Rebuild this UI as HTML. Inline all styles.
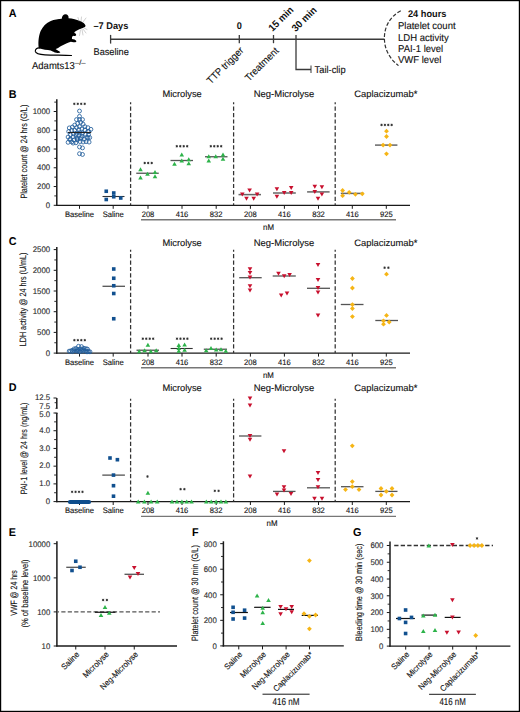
<!DOCTYPE html>
<html><head><meta charset="utf-8"><style>
html,body{margin:0;padding:0;background:#fff;}
svg{display:block;}
text{font-family:"Liberation Sans",sans-serif;text-rendering:geometricPrecision;}
</style></head><body>
<svg width="520" height="712" viewBox="0 0 520 712">
<rect width="520" height="712" fill="#fff"/>
<rect x="0.5" y="0.5" width="519" height="711" fill="none" stroke="#000" stroke-width="1.4"/>
<text x="8.80" y="16.60" font-size="11.34" font-weight="bold" fill="#000" textLength="7.80" lengthAdjust="spacingAndGlyphs">A</text>
<g transform="translate(30 8) scale(0.11538)"><path d="M76 348 C70 310 72 250 92 200 C110 160 140 130 180 112 C210 100 245 97 275 94 C276 72 290 54 308 54 C326 55 338 70 334 88 C365 90 410 100 440 114 C462 124 478 140 481 152 C482 162 474 168 462 171 C440 178 415 188 395 202 C388 207 384 212 384 216 C394 218 402 226 400 236 C397 244 384 242 374 240 C366 246 362 256 364 268 C378 268 396 274 402 286 C404 296 388 300 376 296 C368 294 362 292 354 292 C330 298 300 312 270 330 C255 340 240 350 222 356 C232 366 250 372 262 382 C264 390 244 391 228 388 C210 384 196 376 180 368 C150 362 110 360 76 348 Z" fill="#000"/><path d="M84 346 C60 344 44 358 46 376 C50 396 85 403 130 406 C200 410 290 408 360 412" fill="none" stroke="#000" stroke-width="10" stroke-linecap="round"/><g stroke="#9a9a9a" stroke-width="4" fill="none" stroke-linecap="round"><path d="M424.7 112.7 L416 82.3"/><path d="M442 117 L446.3 78"/><path d="M459.4 121.3 L485.3 86.7"/><path d="M468 173.3 L494 186.3"/><path d="M459.4 182 L485.3 216.7"/><path d="M450.7 186.3 L459.4 234"/><path d="M437.7 190.7 L429 238.3"/></g></g>
<text x="32.00" y="68.50" font-size="9.97" fill="#111" stroke="#111" stroke-width="0.12" textLength="42.77" lengthAdjust="spacingAndGlyphs">Adamts13</text>
<text x="74.97" y="64.60" font-size="7.14" fill="#111" stroke="#111" stroke-width="0.12" textLength="10.60" lengthAdjust="spacingAndGlyphs">–/–</text>
<line x1="110.50" y1="39.20" x2="384.00" y2="39.20" stroke="#3a3a3a" stroke-width="1.35"/>
<line x1="110.60" y1="34.90" x2="110.60" y2="43.60" stroke="#3a3a3a" stroke-width="1.3"/>
<line x1="239.30" y1="35.00" x2="239.30" y2="43.20" stroke="#3a3a3a" stroke-width="1.3"/>
<line x1="273.50" y1="35.00" x2="273.50" y2="43.20" stroke="#3a3a3a" stroke-width="1.3"/>
<path d="M296 35 L296 69.5 L311 69.5" fill="none" stroke="#3a3a3a" stroke-width="1.3"/>
<line x1="311.00" y1="65.50" x2="311.00" y2="73.00" stroke="#3a3a3a" stroke-width="1.0"/>
<text x="314.60" y="72.90" font-size="9.87" fill="#111" stroke="#111" stroke-width="0.12" textLength="31.00" lengthAdjust="spacingAndGlyphs">Tail-clip</text>
<text x="93.50" y="29.00" font-size="9.66" font-weight="bold" fill="#111" textLength="34.78" lengthAdjust="spacingAndGlyphs">–7 Days</text>
<text x="93.50" y="54.50" font-size="9.66" fill="#111" stroke="#111" stroke-width="0.12" textLength="35.29" lengthAdjust="spacingAndGlyphs">Baseline</text>
<text x="239.30" y="29.00" font-size="9.66" text-anchor="middle" font-weight="bold" fill="#111" textLength="5.12" lengthAdjust="spacingAndGlyphs">0</text>
<text x="272.60" y="32.00" font-size="10.08" font-weight="bold" fill="#111" textLength="30.41" lengthAdjust="spacingAndGlyphs" transform="rotate(-45 272.60 32.00)">15 min</text>
<text x="295.80" y="32.30" font-size="10.08" font-weight="bold" fill="#111" textLength="30.41" lengthAdjust="spacingAndGlyphs" transform="rotate(-45 295.80 32.30)">30 min</text>
<text x="210.83" y="84.47" font-size="9.97" fill="#111" stroke="#111" stroke-width="0.12" textLength="47.33" lengthAdjust="spacingAndGlyphs" transform="rotate(-45 210.83 84.47)">TTP trigger</text>
<text x="248.94" y="81.66" font-size="9.97" fill="#111" stroke="#111" stroke-width="0.12" textLength="42.94" lengthAdjust="spacingAndGlyphs" transform="rotate(-45 248.94 81.66)">Treatment</text>
<path d="M400.8 10.8 C389 17 384.2 28 384.4 38.7 C384.6 50 390 59 398.5 65.6" fill="none" stroke="#333" stroke-width="1.2" stroke-dasharray="3.8 1.9"/>
<text x="408.00" y="16.90" font-size="9.66" font-weight="bold" fill="#111" textLength="38.34" lengthAdjust="spacingAndGlyphs">24 hours</text>
<text x="398.00" y="28.50" font-size="9.97" fill="#111" stroke="#111" stroke-width="0.12" textLength="57.56" lengthAdjust="spacingAndGlyphs">Platelet count</text>
<text x="398.00" y="40.70" font-size="9.97" fill="#111" stroke="#111" stroke-width="0.12" textLength="50.68" lengthAdjust="spacingAndGlyphs">LDH activity</text>
<text x="398.00" y="51.90" font-size="9.97" fill="#111" stroke="#111" stroke-width="0.12" textLength="45.23" lengthAdjust="spacingAndGlyphs">PAI-1 level</text>
<text x="398.00" y="62.90" font-size="9.97" fill="#111" stroke="#111" stroke-width="0.12" textLength="43.28" lengthAdjust="spacingAndGlyphs">VWF level</text>
<text x="8.80" y="97.60" font-size="11.34" font-weight="bold" fill="#000" textLength="7.80" lengthAdjust="spacingAndGlyphs">B</text>
<line x1="56.80" y1="99.20" x2="56.80" y2="205.90" stroke="#1a1a1a" stroke-width="1.5"/>
<line x1="53.70" y1="205.30" x2="56.80" y2="205.30" stroke="#1a1a1a" stroke-width="1.0"/>
<text x="50.10" y="207.80" font-size="8.19" text-anchor="end" fill="#2a2a2a" stroke="#2a2a2a" stroke-width="0.12" textLength="4.34" lengthAdjust="spacingAndGlyphs">0</text>
<line x1="53.70" y1="186.54" x2="56.80" y2="186.54" stroke="#1a1a1a" stroke-width="1.0"/>
<text x="50.10" y="189.04" font-size="8.19" text-anchor="end" fill="#2a2a2a" stroke="#2a2a2a" stroke-width="0.12" textLength="13.01" lengthAdjust="spacingAndGlyphs">200</text>
<line x1="53.70" y1="167.78" x2="56.80" y2="167.78" stroke="#1a1a1a" stroke-width="1.0"/>
<text x="50.10" y="170.28" font-size="8.19" text-anchor="end" fill="#2a2a2a" stroke="#2a2a2a" stroke-width="0.12" textLength="13.01" lengthAdjust="spacingAndGlyphs">400</text>
<line x1="53.70" y1="149.02" x2="56.80" y2="149.02" stroke="#1a1a1a" stroke-width="1.0"/>
<text x="50.10" y="151.52" font-size="8.19" text-anchor="end" fill="#2a2a2a" stroke="#2a2a2a" stroke-width="0.12" textLength="13.01" lengthAdjust="spacingAndGlyphs">600</text>
<line x1="53.70" y1="130.26" x2="56.80" y2="130.26" stroke="#1a1a1a" stroke-width="1.0"/>
<text x="50.10" y="132.76" font-size="8.19" text-anchor="end" fill="#2a2a2a" stroke="#2a2a2a" stroke-width="0.12" textLength="13.01" lengthAdjust="spacingAndGlyphs">800</text>
<line x1="53.70" y1="111.50" x2="56.80" y2="111.50" stroke="#1a1a1a" stroke-width="1.0"/>
<text x="50.10" y="114.00" font-size="8.19" text-anchor="end" fill="#2a2a2a" stroke="#2a2a2a" stroke-width="0.12" textLength="17.35" lengthAdjust="spacingAndGlyphs">1000</text>
<line x1="54.30" y1="195.92" x2="56.80" y2="195.92" stroke="#1a1a1a" stroke-width="0.9"/>
<line x1="54.30" y1="177.16" x2="56.80" y2="177.16" stroke="#1a1a1a" stroke-width="0.9"/>
<line x1="54.30" y1="158.40" x2="56.80" y2="158.40" stroke="#1a1a1a" stroke-width="0.9"/>
<line x1="54.30" y1="139.64" x2="56.80" y2="139.64" stroke="#1a1a1a" stroke-width="0.9"/>
<line x1="54.30" y1="120.88" x2="56.80" y2="120.88" stroke="#1a1a1a" stroke-width="0.9"/>
<line x1="54.30" y1="102.12" x2="56.80" y2="102.12" stroke="#1a1a1a" stroke-width="0.9"/>
<line x1="56.20" y1="205.30" x2="410.00" y2="205.30" stroke="#1a1a1a" stroke-width="1.25"/>
<line x1="79.50" y1="205.30" x2="79.50" y2="208.80" stroke="#1a1a1a" stroke-width="1.0"/>
<line x1="113.20" y1="205.30" x2="113.20" y2="208.80" stroke="#1a1a1a" stroke-width="1.0"/>
<line x1="148.00" y1="205.30" x2="148.00" y2="208.80" stroke="#1a1a1a" stroke-width="1.0"/>
<line x1="182.00" y1="205.30" x2="182.00" y2="208.80" stroke="#1a1a1a" stroke-width="1.0"/>
<line x1="216.20" y1="205.30" x2="216.20" y2="208.80" stroke="#1a1a1a" stroke-width="1.0"/>
<line x1="250.40" y1="205.30" x2="250.40" y2="208.80" stroke="#1a1a1a" stroke-width="1.0"/>
<line x1="284.40" y1="205.30" x2="284.40" y2="208.80" stroke="#1a1a1a" stroke-width="1.0"/>
<line x1="318.50" y1="205.30" x2="318.50" y2="208.80" stroke="#1a1a1a" stroke-width="1.0"/>
<line x1="352.30" y1="205.30" x2="352.30" y2="208.80" stroke="#1a1a1a" stroke-width="1.0"/>
<line x1="386.30" y1="205.30" x2="386.30" y2="208.80" stroke="#1a1a1a" stroke-width="1.0"/>
<text x="79.50" y="217.40" font-size="7.98" text-anchor="middle" fill="#111" stroke="#111" stroke-width="0.12" textLength="29.15" lengthAdjust="spacingAndGlyphs">Baseline</text>
<text x="113.20" y="217.40" font-size="7.98" text-anchor="middle" fill="#111" stroke="#111" stroke-width="0.12" textLength="21.13" lengthAdjust="spacingAndGlyphs">Saline</text>
<text x="148.00" y="217.40" font-size="7.98" text-anchor="middle" fill="#111" stroke="#111" stroke-width="0.12" textLength="12.68" lengthAdjust="spacingAndGlyphs">208</text>
<text x="182.00" y="217.40" font-size="7.98" text-anchor="middle" fill="#111" stroke="#111" stroke-width="0.12" textLength="12.68" lengthAdjust="spacingAndGlyphs">416</text>
<text x="216.20" y="217.40" font-size="7.98" text-anchor="middle" fill="#111" stroke="#111" stroke-width="0.12" textLength="12.68" lengthAdjust="spacingAndGlyphs">832</text>
<text x="250.40" y="217.40" font-size="7.98" text-anchor="middle" fill="#111" stroke="#111" stroke-width="0.12" textLength="12.68" lengthAdjust="spacingAndGlyphs">208</text>
<text x="284.40" y="217.40" font-size="7.98" text-anchor="middle" fill="#111" stroke="#111" stroke-width="0.12" textLength="12.68" lengthAdjust="spacingAndGlyphs">416</text>
<text x="318.50" y="217.40" font-size="7.98" text-anchor="middle" fill="#111" stroke="#111" stroke-width="0.12" textLength="12.68" lengthAdjust="spacingAndGlyphs">832</text>
<text x="352.30" y="217.40" font-size="7.98" text-anchor="middle" fill="#111" stroke="#111" stroke-width="0.12" textLength="12.68" lengthAdjust="spacingAndGlyphs">416</text>
<text x="386.30" y="217.40" font-size="7.98" text-anchor="middle" fill="#111" stroke="#111" stroke-width="0.12" textLength="12.68" lengthAdjust="spacingAndGlyphs">925</text>
<line x1="130.6" y1="102.3" x2="130.6" y2="205.3" stroke="#333" stroke-width="1.25" stroke-dasharray="4.2 2.25" stroke-dashoffset="2.25"/>
<line x1="233.6" y1="102.3" x2="233.6" y2="205.3" stroke="#333" stroke-width="1.25" stroke-dasharray="4.2 2.25" stroke-dashoffset="2.25"/>
<line x1="335.2" y1="102.3" x2="335.2" y2="205.3" stroke="#333" stroke-width="1.25" stroke-dasharray="4.2 2.25" stroke-dashoffset="2.25"/>
<text x="182.10" y="97.30" font-size="9.35" text-anchor="middle" fill="#111" stroke="#111" stroke-width="0.12" textLength="39.40" lengthAdjust="spacingAndGlyphs">Microlyse</text>
<text x="284.00" y="97.30" font-size="9.35" text-anchor="middle" fill="#111" stroke="#111" stroke-width="0.12" textLength="60.50" lengthAdjust="spacingAndGlyphs">Neg-Microlyse</text>
<text x="385.80" y="97.30" font-size="9.35" text-anchor="middle" fill="#111" stroke="#111" stroke-width="0.12" textLength="63.00" lengthAdjust="spacingAndGlyphs">Caplacizumab*</text>
<line x1="141.00" y1="219.80" x2="396.00" y2="219.80" stroke="#777" stroke-width="1.4"/>
<text x="268.50" y="230.30" font-size="8.29" text-anchor="middle" fill="#111" stroke="#111" stroke-width="0.12" textLength="10.97" lengthAdjust="spacingAndGlyphs">nM</text>
<text x="0" y="0" font-size="9.2" text-anchor="middle" fill="#111" stroke="#111" stroke-width="0.12" textLength="93.9" lengthAdjust="spacingAndGlyphs" transform="translate(26.50 151.65) rotate(-90)">Platelet count @ 24 hrs (G/L)</text>
<circle cx="74.30" cy="103.80" r="0.9" fill="#2a2a2a"/>
<path d="M74.30 102.45V105.15M73.10 103.10L75.50 104.50M73.10 104.50L75.50 103.10" stroke="#333" stroke-width="0.5"/>
<circle cx="77.77" cy="103.80" r="0.9" fill="#2a2a2a"/>
<path d="M77.77 102.45V105.15M76.57 103.10L78.97 104.50M76.57 104.50L78.97 103.10" stroke="#333" stroke-width="0.5"/>
<circle cx="81.23" cy="103.80" r="0.9" fill="#2a2a2a"/>
<path d="M81.23 102.45V105.15M80.03 103.10L82.43 104.50M80.03 104.50L82.43 103.10" stroke="#333" stroke-width="0.5"/>
<circle cx="84.70" cy="103.80" r="0.9" fill="#2a2a2a"/>
<path d="M84.70 102.45V105.15M83.50 103.10L85.90 104.50M83.50 104.50L85.90 103.10" stroke="#333" stroke-width="0.5"/>
<line x1="102.50" y1="196.50" x2="124.50" y2="196.50" stroke="#333" stroke-width="1.1"/>
<line x1="136.25" y1="173.25" x2="158.75" y2="173.25" stroke="#555" stroke-width="1.3"/>
<circle cx="144.70" cy="163.00" r="0.9" fill="#2a2a2a"/>
<path d="M144.70 161.65V164.35M143.50 162.30L145.90 163.70M143.50 163.70L145.90 162.30" stroke="#333" stroke-width="0.5"/>
<circle cx="148.20" cy="163.00" r="0.9" fill="#2a2a2a"/>
<path d="M148.20 161.65V164.35M147.00 162.30L149.40 163.70M147.00 163.70L149.40 162.30" stroke="#333" stroke-width="0.5"/>
<circle cx="151.70" cy="163.00" r="0.9" fill="#2a2a2a"/>
<path d="M151.70 161.65V164.35M150.50 162.30L152.90 163.70M150.50 163.70L152.90 162.30" stroke="#333" stroke-width="0.5"/>
<line x1="170.50" y1="160.50" x2="193.00" y2="160.50" stroke="#555" stroke-width="1.3"/>
<circle cx="176.80" cy="146.25" r="0.9" fill="#2a2a2a"/>
<path d="M176.80 144.90V147.60M175.60 145.55L178.00 146.95M175.60 146.95L178.00 145.55" stroke="#333" stroke-width="0.5"/>
<circle cx="180.27" cy="146.25" r="0.9" fill="#2a2a2a"/>
<path d="M180.27 144.90V147.60M179.07 145.55L181.47 146.95M179.07 146.95L181.47 145.55" stroke="#333" stroke-width="0.5"/>
<circle cx="183.73" cy="146.25" r="0.9" fill="#2a2a2a"/>
<path d="M183.73 144.90V147.60M182.53 145.55L184.93 146.95M182.53 146.95L184.93 145.55" stroke="#333" stroke-width="0.5"/>
<circle cx="187.20" cy="146.25" r="0.9" fill="#2a2a2a"/>
<path d="M187.20 144.90V147.60M186.00 145.55L188.40 146.95M186.00 146.95L188.40 145.55" stroke="#333" stroke-width="0.5"/>
<line x1="205.00" y1="156.75" x2="227.50" y2="156.75" stroke="#555" stroke-width="1.3"/>
<circle cx="210.80" cy="146.25" r="0.9" fill="#2a2a2a"/>
<path d="M210.80 144.90V147.60M209.60 145.55L212.00 146.95M209.60 146.95L212.00 145.55" stroke="#333" stroke-width="0.5"/>
<circle cx="214.27" cy="146.25" r="0.9" fill="#2a2a2a"/>
<path d="M214.27 144.90V147.60M213.07 145.55L215.47 146.95M213.07 146.95L215.47 145.55" stroke="#333" stroke-width="0.5"/>
<circle cx="217.73" cy="146.25" r="0.9" fill="#2a2a2a"/>
<path d="M217.73 144.90V147.60M216.53 145.55L218.93 146.95M216.53 146.95L218.93 145.55" stroke="#333" stroke-width="0.5"/>
<circle cx="221.20" cy="146.25" r="0.9" fill="#2a2a2a"/>
<path d="M221.20 144.90V147.60M220.00 145.55L222.40 146.95M220.00 146.95L222.40 145.55" stroke="#333" stroke-width="0.5"/>
<line x1="238.50" y1="194.60" x2="261.00" y2="194.60" stroke="#666" stroke-width="1.5"/>
<line x1="273.00" y1="193.00" x2="295.80" y2="193.00" stroke="#666" stroke-width="1.5"/>
<line x1="307.10" y1="191.90" x2="329.60" y2="191.90" stroke="#666" stroke-width="1.5"/>
<line x1="340.80" y1="193.40" x2="363.80" y2="193.40" stroke="#666" stroke-width="1.5"/>
<line x1="375.00" y1="145.10" x2="397.40" y2="145.10" stroke="#666" stroke-width="1.5"/>
<circle cx="381.55" cy="124.90" r="0.9" fill="#2a2a2a"/>
<path d="M381.55 123.55V126.25M380.35 124.20L382.75 125.60M380.35 125.60L382.75 124.20" stroke="#333" stroke-width="0.5"/>
<circle cx="384.92" cy="124.90" r="0.9" fill="#2a2a2a"/>
<path d="M384.92 123.55V126.25M383.72 124.20L386.12 125.60M383.72 125.60L386.12 124.20" stroke="#333" stroke-width="0.5"/>
<circle cx="388.28" cy="124.90" r="0.9" fill="#2a2a2a"/>
<path d="M388.28 123.55V126.25M387.08 124.20L389.48 125.60M387.08 125.60L389.48 124.20" stroke="#333" stroke-width="0.5"/>
<circle cx="391.65" cy="124.90" r="0.9" fill="#2a2a2a"/>
<path d="M391.65 123.55V126.25M390.45 124.20L392.85 125.60M390.45 125.60L392.85 124.20" stroke="#333" stroke-width="0.5"/>
<text x="8.80" y="245.00" font-size="11.34" font-weight="bold" fill="#000" textLength="7.80" lengthAdjust="spacingAndGlyphs">C</text>
<line x1="56.80" y1="247.00" x2="56.80" y2="353.70" stroke="#1a1a1a" stroke-width="1.5"/>
<line x1="53.70" y1="353.10" x2="56.80" y2="353.10" stroke="#1a1a1a" stroke-width="1.0"/>
<text x="50.10" y="355.60" font-size="8.19" text-anchor="end" fill="#2a2a2a" stroke="#2a2a2a" stroke-width="0.12" textLength="4.34" lengthAdjust="spacingAndGlyphs">0</text>
<line x1="53.70" y1="332.40" x2="56.80" y2="332.40" stroke="#1a1a1a" stroke-width="1.0"/>
<text x="50.10" y="334.90" font-size="8.19" text-anchor="end" fill="#2a2a2a" stroke="#2a2a2a" stroke-width="0.12" textLength="13.01" lengthAdjust="spacingAndGlyphs">500</text>
<line x1="53.70" y1="311.70" x2="56.80" y2="311.70" stroke="#1a1a1a" stroke-width="1.0"/>
<text x="50.10" y="314.20" font-size="8.19" text-anchor="end" fill="#2a2a2a" stroke="#2a2a2a" stroke-width="0.12" textLength="17.35" lengthAdjust="spacingAndGlyphs">1000</text>
<line x1="53.70" y1="291.00" x2="56.80" y2="291.00" stroke="#1a1a1a" stroke-width="1.0"/>
<text x="50.10" y="293.50" font-size="8.19" text-anchor="end" fill="#2a2a2a" stroke="#2a2a2a" stroke-width="0.12" textLength="17.35" lengthAdjust="spacingAndGlyphs">1500</text>
<line x1="53.70" y1="270.30" x2="56.80" y2="270.30" stroke="#1a1a1a" stroke-width="1.0"/>
<text x="50.10" y="272.80" font-size="8.19" text-anchor="end" fill="#2a2a2a" stroke="#2a2a2a" stroke-width="0.12" textLength="17.35" lengthAdjust="spacingAndGlyphs">2000</text>
<line x1="53.70" y1="249.60" x2="56.80" y2="249.60" stroke="#1a1a1a" stroke-width="1.0"/>
<text x="50.10" y="252.10" font-size="8.19" text-anchor="end" fill="#2a2a2a" stroke="#2a2a2a" stroke-width="0.12" textLength="17.35" lengthAdjust="spacingAndGlyphs">2500</text>
<line x1="54.30" y1="342.75" x2="56.80" y2="342.75" stroke="#1a1a1a" stroke-width="0.9"/>
<line x1="54.30" y1="322.05" x2="56.80" y2="322.05" stroke="#1a1a1a" stroke-width="0.9"/>
<line x1="54.30" y1="301.35" x2="56.80" y2="301.35" stroke="#1a1a1a" stroke-width="0.9"/>
<line x1="54.30" y1="280.65" x2="56.80" y2="280.65" stroke="#1a1a1a" stroke-width="0.9"/>
<line x1="54.30" y1="259.95" x2="56.80" y2="259.95" stroke="#1a1a1a" stroke-width="0.9"/>
<line x1="56.20" y1="353.10" x2="410.00" y2="353.10" stroke="#1a1a1a" stroke-width="1.25"/>
<line x1="79.50" y1="353.10" x2="79.50" y2="356.60" stroke="#1a1a1a" stroke-width="1.0"/>
<line x1="113.20" y1="353.10" x2="113.20" y2="356.60" stroke="#1a1a1a" stroke-width="1.0"/>
<line x1="148.00" y1="353.10" x2="148.00" y2="356.60" stroke="#1a1a1a" stroke-width="1.0"/>
<line x1="182.00" y1="353.10" x2="182.00" y2="356.60" stroke="#1a1a1a" stroke-width="1.0"/>
<line x1="216.20" y1="353.10" x2="216.20" y2="356.60" stroke="#1a1a1a" stroke-width="1.0"/>
<line x1="250.40" y1="353.10" x2="250.40" y2="356.60" stroke="#1a1a1a" stroke-width="1.0"/>
<line x1="284.40" y1="353.10" x2="284.40" y2="356.60" stroke="#1a1a1a" stroke-width="1.0"/>
<line x1="318.50" y1="353.10" x2="318.50" y2="356.60" stroke="#1a1a1a" stroke-width="1.0"/>
<line x1="352.30" y1="353.10" x2="352.30" y2="356.60" stroke="#1a1a1a" stroke-width="1.0"/>
<line x1="386.30" y1="353.10" x2="386.30" y2="356.60" stroke="#1a1a1a" stroke-width="1.0"/>
<text x="79.50" y="364.90" font-size="7.98" text-anchor="middle" fill="#111" stroke="#111" stroke-width="0.12" textLength="29.15" lengthAdjust="spacingAndGlyphs">Baseline</text>
<text x="113.20" y="364.90" font-size="7.98" text-anchor="middle" fill="#111" stroke="#111" stroke-width="0.12" textLength="21.13" lengthAdjust="spacingAndGlyphs">Saline</text>
<text x="148.00" y="364.90" font-size="7.98" text-anchor="middle" fill="#111" stroke="#111" stroke-width="0.12" textLength="12.68" lengthAdjust="spacingAndGlyphs">208</text>
<text x="182.00" y="364.90" font-size="7.98" text-anchor="middle" fill="#111" stroke="#111" stroke-width="0.12" textLength="12.68" lengthAdjust="spacingAndGlyphs">416</text>
<text x="216.20" y="364.90" font-size="7.98" text-anchor="middle" fill="#111" stroke="#111" stroke-width="0.12" textLength="12.68" lengthAdjust="spacingAndGlyphs">832</text>
<text x="250.40" y="364.90" font-size="7.98" text-anchor="middle" fill="#111" stroke="#111" stroke-width="0.12" textLength="12.68" lengthAdjust="spacingAndGlyphs">208</text>
<text x="284.40" y="364.90" font-size="7.98" text-anchor="middle" fill="#111" stroke="#111" stroke-width="0.12" textLength="12.68" lengthAdjust="spacingAndGlyphs">416</text>
<text x="318.50" y="364.90" font-size="7.98" text-anchor="middle" fill="#111" stroke="#111" stroke-width="0.12" textLength="12.68" lengthAdjust="spacingAndGlyphs">832</text>
<text x="352.30" y="364.90" font-size="7.98" text-anchor="middle" fill="#111" stroke="#111" stroke-width="0.12" textLength="12.68" lengthAdjust="spacingAndGlyphs">416</text>
<text x="386.30" y="364.90" font-size="7.98" text-anchor="middle" fill="#111" stroke="#111" stroke-width="0.12" textLength="12.68" lengthAdjust="spacingAndGlyphs">925</text>
<line x1="130.6" y1="249.8" x2="130.6" y2="353.1" stroke="#333" stroke-width="1.25" stroke-dasharray="4.2 2.25" stroke-dashoffset="2.25"/>
<line x1="233.6" y1="249.8" x2="233.6" y2="353.1" stroke="#333" stroke-width="1.25" stroke-dasharray="4.2 2.25" stroke-dashoffset="2.25"/>
<line x1="335.2" y1="249.8" x2="335.2" y2="353.1" stroke="#333" stroke-width="1.25" stroke-dasharray="4.2 2.25" stroke-dashoffset="2.25"/>
<text x="182.10" y="245.60" font-size="9.35" text-anchor="middle" fill="#111" stroke="#111" stroke-width="0.12" textLength="39.40" lengthAdjust="spacingAndGlyphs">Microlyse</text>
<text x="284.00" y="245.60" font-size="9.35" text-anchor="middle" fill="#111" stroke="#111" stroke-width="0.12" textLength="60.50" lengthAdjust="spacingAndGlyphs">Neg-Microlyse</text>
<text x="385.80" y="245.60" font-size="9.35" text-anchor="middle" fill="#111" stroke="#111" stroke-width="0.12" textLength="63.00" lengthAdjust="spacingAndGlyphs">Caplacizumab*</text>
<line x1="141.00" y1="367.70" x2="396.00" y2="367.70" stroke="#777" stroke-width="1.4"/>
<text x="268.40" y="377.90" font-size="8.29" text-anchor="middle" fill="#111" stroke="#111" stroke-width="0.12" textLength="10.97" lengthAdjust="spacingAndGlyphs">nM</text>
<text x="0" y="0" font-size="9.2" text-anchor="middle" fill="#111" stroke="#111" stroke-width="0.12" textLength="93.8" lengthAdjust="spacingAndGlyphs" transform="translate(26.40 299.40) rotate(-90)">LDH activity @ 24 hrs (U/mL)</text>
<circle cx="74.40" cy="340.20" r="0.9" fill="#2a2a2a"/>
<path d="M74.40 338.85V341.55M73.20 339.50L75.60 340.90M73.20 340.90L75.60 339.50" stroke="#333" stroke-width="0.5"/>
<circle cx="77.87" cy="340.20" r="0.9" fill="#2a2a2a"/>
<path d="M77.87 338.85V341.55M76.67 339.50L79.07 340.90M76.67 340.90L79.07 339.50" stroke="#333" stroke-width="0.5"/>
<circle cx="81.33" cy="340.20" r="0.9" fill="#2a2a2a"/>
<path d="M81.33 338.85V341.55M80.13 339.50L82.53 340.90M80.13 340.90L82.53 339.50" stroke="#333" stroke-width="0.5"/>
<circle cx="84.80" cy="340.20" r="0.9" fill="#2a2a2a"/>
<path d="M84.80 338.85V341.55M83.60 339.50L86.00 340.90M83.60 340.90L86.00 339.50" stroke="#333" stroke-width="0.5"/>
<line x1="102.50" y1="286.25" x2="125.00" y2="286.25" stroke="#333" stroke-width="1.1"/>
<line x1="136.50" y1="350.20" x2="159.00" y2="350.20" stroke="#333" stroke-width="1.1"/>
<circle cx="142.80" cy="338.70" r="0.9" fill="#2a2a2a"/>
<path d="M142.80 337.35V340.05M141.60 338.00L144.00 339.40M141.60 339.40L144.00 338.00" stroke="#333" stroke-width="0.5"/>
<circle cx="146.27" cy="338.70" r="0.9" fill="#2a2a2a"/>
<path d="M146.27 337.35V340.05M145.07 338.00L147.47 339.40M145.07 339.40L147.47 338.00" stroke="#333" stroke-width="0.5"/>
<circle cx="149.73" cy="338.70" r="0.9" fill="#2a2a2a"/>
<path d="M149.73 337.35V340.05M148.53 338.00L150.93 339.40M148.53 339.40L150.93 338.00" stroke="#333" stroke-width="0.5"/>
<circle cx="153.20" cy="338.70" r="0.9" fill="#2a2a2a"/>
<path d="M153.20 337.35V340.05M152.00 338.00L154.40 339.40M152.00 339.40L154.40 338.00" stroke="#333" stroke-width="0.5"/>
<line x1="170.60" y1="348.50" x2="192.70" y2="348.50" stroke="#333" stroke-width="1.1"/>
<circle cx="177.00" cy="338.70" r="0.9" fill="#2a2a2a"/>
<path d="M177.00 337.35V340.05M175.80 338.00L178.20 339.40M175.80 339.40L178.20 338.00" stroke="#333" stroke-width="0.5"/>
<circle cx="180.47" cy="338.70" r="0.9" fill="#2a2a2a"/>
<path d="M180.47 337.35V340.05M179.27 338.00L181.67 339.40M179.27 339.40L181.67 338.00" stroke="#333" stroke-width="0.5"/>
<circle cx="183.93" cy="338.70" r="0.9" fill="#2a2a2a"/>
<path d="M183.93 337.35V340.05M182.73 338.00L185.13 339.40M182.73 339.40L185.13 338.00" stroke="#333" stroke-width="0.5"/>
<circle cx="187.40" cy="338.70" r="0.9" fill="#2a2a2a"/>
<path d="M187.40 337.35V340.05M186.20 338.00L188.60 339.40M186.20 339.40L188.60 338.00" stroke="#333" stroke-width="0.5"/>
<line x1="203.80" y1="349.20" x2="227.00" y2="349.20" stroke="#333" stroke-width="1.1"/>
<circle cx="211.20" cy="338.70" r="0.9" fill="#2a2a2a"/>
<path d="M211.20 337.35V340.05M210.00 338.00L212.40 339.40M210.00 339.40L212.40 338.00" stroke="#333" stroke-width="0.5"/>
<circle cx="214.67" cy="338.70" r="0.9" fill="#2a2a2a"/>
<path d="M214.67 337.35V340.05M213.47 338.00L215.87 339.40M213.47 339.40L215.87 338.00" stroke="#333" stroke-width="0.5"/>
<circle cx="218.13" cy="338.70" r="0.9" fill="#2a2a2a"/>
<path d="M218.13 337.35V340.05M216.93 338.00L219.33 339.40M216.93 339.40L219.33 338.00" stroke="#333" stroke-width="0.5"/>
<circle cx="221.60" cy="338.70" r="0.9" fill="#2a2a2a"/>
<path d="M221.60 337.35V340.05M220.40 338.00L222.80 339.40M220.40 339.40L222.80 338.00" stroke="#333" stroke-width="0.5"/>
<line x1="239.20" y1="277.70" x2="261.70" y2="277.70" stroke="#555" stroke-width="1.3"/>
<line x1="272.70" y1="276.00" x2="295.80" y2="276.00" stroke="#555" stroke-width="1.3"/>
<line x1="307.00" y1="288.30" x2="330.00" y2="288.30" stroke="#555" stroke-width="1.3"/>
<line x1="340.80" y1="304.50" x2="363.50" y2="304.50" stroke="#555" stroke-width="1.3"/>
<line x1="375.30" y1="320.50" x2="398.00" y2="320.50" stroke="#555" stroke-width="1.3"/>
<circle cx="384.60" cy="267.70" r="0.9" fill="#2a2a2a"/>
<path d="M384.60 266.35V269.05M383.40 267.00L385.80 268.40M383.40 268.40L385.80 267.00" stroke="#333" stroke-width="0.5"/>
<circle cx="388.40" cy="267.70" r="0.9" fill="#2a2a2a"/>
<path d="M388.40 266.35V269.05M387.20 267.00L389.60 268.40M387.20 268.40L389.60 267.00" stroke="#333" stroke-width="0.5"/>
<text x="8.80" y="390.60" font-size="11.34" font-weight="bold" fill="#000" textLength="7.80" lengthAdjust="spacingAndGlyphs">D</text>
<line x1="56.80" y1="413.20" x2="56.80" y2="502.20" stroke="#1a1a1a" stroke-width="1.5"/>
<line x1="53.50" y1="501.60" x2="56.60" y2="501.60" stroke="#1a1a1a" stroke-width="1.0"/>
<text x="50.20" y="503.90" font-size="8.19" text-anchor="end" fill="#2a2a2a" stroke="#2a2a2a" stroke-width="0.12" textLength="4.34" lengthAdjust="spacingAndGlyphs">0</text>
<line x1="53.50" y1="483.88" x2="56.60" y2="483.88" stroke="#1a1a1a" stroke-width="1.0"/>
<text x="50.20" y="486.18" font-size="8.19" text-anchor="end" fill="#2a2a2a" stroke="#2a2a2a" stroke-width="0.12" textLength="10.84" lengthAdjust="spacingAndGlyphs">1.0</text>
<line x1="53.50" y1="466.16" x2="56.60" y2="466.16" stroke="#1a1a1a" stroke-width="1.0"/>
<text x="50.20" y="468.46" font-size="8.19" text-anchor="end" fill="#2a2a2a" stroke="#2a2a2a" stroke-width="0.12" textLength="10.84" lengthAdjust="spacingAndGlyphs">2.0</text>
<line x1="53.50" y1="448.44" x2="56.60" y2="448.44" stroke="#1a1a1a" stroke-width="1.0"/>
<text x="50.20" y="450.74" font-size="8.19" text-anchor="end" fill="#2a2a2a" stroke="#2a2a2a" stroke-width="0.12" textLength="10.84" lengthAdjust="spacingAndGlyphs">3.0</text>
<line x1="53.50" y1="430.72" x2="56.60" y2="430.72" stroke="#1a1a1a" stroke-width="1.0"/>
<text x="50.20" y="433.02" font-size="8.19" text-anchor="end" fill="#2a2a2a" stroke="#2a2a2a" stroke-width="0.12" textLength="10.84" lengthAdjust="spacingAndGlyphs">4.0</text>
<line x1="53.50" y1="413.00" x2="56.60" y2="413.00" stroke="#1a1a1a" stroke-width="1.0"/>
<text x="50.20" y="416.90" font-size="8.19" text-anchor="end" fill="#2a2a2a" stroke="#2a2a2a" stroke-width="0.12" textLength="10.84" lengthAdjust="spacingAndGlyphs">5.0</text>
<line x1="54.10" y1="492.74" x2="56.60" y2="492.74" stroke="#1a1a1a" stroke-width="0.9"/>
<line x1="54.10" y1="475.02" x2="56.60" y2="475.02" stroke="#1a1a1a" stroke-width="0.9"/>
<line x1="54.10" y1="457.30" x2="56.60" y2="457.30" stroke="#1a1a1a" stroke-width="0.9"/>
<line x1="54.10" y1="439.58" x2="56.60" y2="439.58" stroke="#1a1a1a" stroke-width="0.9"/>
<line x1="54.10" y1="421.86" x2="56.60" y2="421.86" stroke="#1a1a1a" stroke-width="0.9"/>
<line x1="55.60" y1="413.20" x2="57.80" y2="413.20" stroke="#1a1a1a" stroke-width="1.0"/>
<line x1="56.80" y1="398.00" x2="56.80" y2="408.30" stroke="#1a1a1a" stroke-width="1.5"/>
<line x1="53.50" y1="398.00" x2="56.60" y2="398.00" stroke="#1a1a1a" stroke-width="1.0"/>
<line x1="54.60" y1="402.70" x2="56.60" y2="402.70" stroke="#1a1a1a" stroke-width="0.9"/>
<line x1="55.50" y1="408.30" x2="57.60" y2="408.30" stroke="#1a1a1a" stroke-width="1.0"/>
<text x="50.20" y="400.40" font-size="8.19" text-anchor="end" fill="#2a2a2a" stroke="#2a2a2a" stroke-width="0.12" textLength="15.18" lengthAdjust="spacingAndGlyphs">12.5</text>
<text x="50.20" y="409.40" font-size="8.19" text-anchor="end" fill="#2a2a2a" stroke="#2a2a2a" stroke-width="0.12" textLength="10.84" lengthAdjust="spacingAndGlyphs">7.5</text>
<line x1="56.20" y1="501.50" x2="410.00" y2="501.50" stroke="#1a1a1a" stroke-width="1.25"/>
<line x1="79.50" y1="501.50" x2="79.50" y2="505.00" stroke="#1a1a1a" stroke-width="1.0"/>
<line x1="113.20" y1="501.50" x2="113.20" y2="505.00" stroke="#1a1a1a" stroke-width="1.0"/>
<line x1="148.00" y1="501.50" x2="148.00" y2="505.00" stroke="#1a1a1a" stroke-width="1.0"/>
<line x1="182.00" y1="501.50" x2="182.00" y2="505.00" stroke="#1a1a1a" stroke-width="1.0"/>
<line x1="216.20" y1="501.50" x2="216.20" y2="505.00" stroke="#1a1a1a" stroke-width="1.0"/>
<line x1="250.40" y1="501.50" x2="250.40" y2="505.00" stroke="#1a1a1a" stroke-width="1.0"/>
<line x1="284.40" y1="501.50" x2="284.40" y2="505.00" stroke="#1a1a1a" stroke-width="1.0"/>
<line x1="318.50" y1="501.50" x2="318.50" y2="505.00" stroke="#1a1a1a" stroke-width="1.0"/>
<line x1="352.30" y1="501.50" x2="352.30" y2="505.00" stroke="#1a1a1a" stroke-width="1.0"/>
<line x1="386.30" y1="501.50" x2="386.30" y2="505.00" stroke="#1a1a1a" stroke-width="1.0"/>
<text x="79.50" y="513.30" font-size="7.98" text-anchor="middle" fill="#111" stroke="#111" stroke-width="0.12" textLength="29.15" lengthAdjust="spacingAndGlyphs">Baseline</text>
<text x="113.20" y="513.30" font-size="7.98" text-anchor="middle" fill="#111" stroke="#111" stroke-width="0.12" textLength="21.13" lengthAdjust="spacingAndGlyphs">Saline</text>
<text x="148.00" y="513.30" font-size="7.98" text-anchor="middle" fill="#111" stroke="#111" stroke-width="0.12" textLength="12.68" lengthAdjust="spacingAndGlyphs">208</text>
<text x="182.00" y="513.30" font-size="7.98" text-anchor="middle" fill="#111" stroke="#111" stroke-width="0.12" textLength="12.68" lengthAdjust="spacingAndGlyphs">416</text>
<text x="216.20" y="513.30" font-size="7.98" text-anchor="middle" fill="#111" stroke="#111" stroke-width="0.12" textLength="12.68" lengthAdjust="spacingAndGlyphs">832</text>
<text x="250.40" y="513.30" font-size="7.98" text-anchor="middle" fill="#111" stroke="#111" stroke-width="0.12" textLength="12.68" lengthAdjust="spacingAndGlyphs">208</text>
<text x="284.40" y="513.30" font-size="7.98" text-anchor="middle" fill="#111" stroke="#111" stroke-width="0.12" textLength="12.68" lengthAdjust="spacingAndGlyphs">416</text>
<text x="318.50" y="513.30" font-size="7.98" text-anchor="middle" fill="#111" stroke="#111" stroke-width="0.12" textLength="12.68" lengthAdjust="spacingAndGlyphs">832</text>
<text x="352.30" y="513.30" font-size="7.98" text-anchor="middle" fill="#111" stroke="#111" stroke-width="0.12" textLength="12.68" lengthAdjust="spacingAndGlyphs">416</text>
<text x="386.30" y="513.30" font-size="7.98" text-anchor="middle" fill="#111" stroke="#111" stroke-width="0.12" textLength="12.68" lengthAdjust="spacingAndGlyphs">925</text>
<line x1="130.6" y1="398.8" x2="130.6" y2="501.5" stroke="#333" stroke-width="1.25" stroke-dasharray="4.2 2.25" stroke-dashoffset="2.25"/>
<line x1="233.6" y1="398.8" x2="233.6" y2="501.5" stroke="#333" stroke-width="1.25" stroke-dasharray="4.2 2.25" stroke-dashoffset="2.25"/>
<line x1="335.2" y1="398.8" x2="335.2" y2="501.5" stroke="#333" stroke-width="1.25" stroke-dasharray="4.2 2.25" stroke-dashoffset="2.25"/>
<text x="182.10" y="390.60" font-size="9.35" text-anchor="middle" fill="#111" stroke="#111" stroke-width="0.12" textLength="39.40" lengthAdjust="spacingAndGlyphs">Microlyse</text>
<text x="284.00" y="390.60" font-size="9.35" text-anchor="middle" fill="#111" stroke="#111" stroke-width="0.12" textLength="60.50" lengthAdjust="spacingAndGlyphs">Neg-Microlyse</text>
<text x="385.80" y="390.60" font-size="9.35" text-anchor="middle" fill="#111" stroke="#111" stroke-width="0.12" textLength="63.00" lengthAdjust="spacingAndGlyphs">Caplacizumab*</text>
<line x1="141.00" y1="516.40" x2="396.00" y2="516.40" stroke="#777" stroke-width="1.4"/>
<text x="272.00" y="526.20" font-size="8.29" text-anchor="middle" fill="#111" stroke="#111" stroke-width="0.12" textLength="10.97" lengthAdjust="spacingAndGlyphs">nM</text>
<text x="0" y="0" font-size="9.2" text-anchor="middle" fill="#111" stroke="#111" stroke-width="0.12" textLength="91.7" lengthAdjust="spacingAndGlyphs" transform="translate(26.50 448.35) rotate(-90)">PAI-1 level @ 24 hrs (ng/mL)</text>
<line x1="69.9" y1="501.9" x2="89.1" y2="501.9" stroke="#0e4d8c" stroke-width="4" stroke-linecap="round"/>
<circle cx="72.10" cy="491.80" r="0.9" fill="#2a2a2a"/>
<path d="M72.10 490.45V493.15M70.90 491.10L73.30 492.50M70.90 492.50L73.30 491.10" stroke="#333" stroke-width="0.5"/>
<circle cx="75.57" cy="491.80" r="0.9" fill="#2a2a2a"/>
<path d="M75.57 490.45V493.15M74.37 491.10L76.77 492.50M74.37 492.50L76.77 491.10" stroke="#333" stroke-width="0.5"/>
<circle cx="79.03" cy="491.80" r="0.9" fill="#2a2a2a"/>
<path d="M79.03 490.45V493.15M77.83 491.10L80.23 492.50M77.83 492.50L80.23 491.10" stroke="#333" stroke-width="0.5"/>
<circle cx="82.50" cy="491.80" r="0.9" fill="#2a2a2a"/>
<path d="M82.50 490.45V493.15M81.30 491.10L83.70 492.50M81.30 492.50L83.70 491.10" stroke="#333" stroke-width="0.5"/>
<line x1="102.30" y1="475.10" x2="124.90" y2="475.10" stroke="#333" stroke-width="1.1"/>
<circle cx="147.50" cy="476.50" r="0.9" fill="#2a2a2a"/>
<path d="M147.50 475.15V477.85M146.30 475.80L148.70 477.20M146.30 477.20L148.70 475.80" stroke="#333" stroke-width="0.5"/>
<circle cx="180.60" cy="489.20" r="0.9" fill="#2a2a2a"/>
<path d="M180.60 487.85V490.55M179.40 488.50L181.80 489.90M179.40 489.90L181.80 488.50" stroke="#333" stroke-width="0.5"/>
<circle cx="184.40" cy="489.20" r="0.9" fill="#2a2a2a"/>
<path d="M184.40 487.85V490.55M183.20 488.50L185.60 489.90M183.20 489.90L185.60 488.50" stroke="#333" stroke-width="0.5"/>
<circle cx="214.80" cy="490.80" r="0.9" fill="#2a2a2a"/>
<path d="M214.80 489.45V492.15M213.60 490.10L216.00 491.50M213.60 491.50L216.00 490.10" stroke="#333" stroke-width="0.5"/>
<circle cx="218.60" cy="490.80" r="0.9" fill="#2a2a2a"/>
<path d="M218.60 489.45V492.15M217.40 490.10L219.80 491.50M217.40 491.50L219.80 490.10" stroke="#333" stroke-width="0.5"/>
<line x1="239.00" y1="436.00" x2="261.40" y2="436.00" stroke="#555" stroke-width="1.3"/>
<line x1="273.00" y1="491.40" x2="295.50" y2="491.40" stroke="#555" stroke-width="1.3"/>
<line x1="307.00" y1="487.80" x2="330.00" y2="487.80" stroke="#555" stroke-width="1.3"/>
<line x1="341.00" y1="486.70" x2="363.50" y2="486.70" stroke="#555" stroke-width="1.3"/>
<line x1="375.30" y1="491.40" x2="397.50" y2="491.40" stroke="#555" stroke-width="1.3"/>
<text x="8.80" y="536.00" font-size="11.34" font-weight="bold" fill="#000" textLength="7.20" lengthAdjust="spacingAndGlyphs">E</text>
<line x1="56.90" y1="541.20" x2="56.90" y2="646.60" stroke="#1a1a1a" stroke-width="1.5"/>
<line x1="53.70" y1="543.70" x2="56.80" y2="543.70" stroke="#1a1a1a" stroke-width="1.0"/>
<text x="50.30" y="546.50" font-size="8.19" text-anchor="end" fill="#2a2a2a" stroke="#2a2a2a" stroke-width="0.12" textLength="21.69" lengthAdjust="spacingAndGlyphs">10000</text>
<line x1="53.70" y1="577.90" x2="56.80" y2="577.90" stroke="#1a1a1a" stroke-width="1.0"/>
<text x="50.30" y="580.70" font-size="8.19" text-anchor="end" fill="#2a2a2a" stroke="#2a2a2a" stroke-width="0.12" textLength="17.35" lengthAdjust="spacingAndGlyphs">1000</text>
<line x1="53.70" y1="611.90" x2="56.80" y2="611.90" stroke="#1a1a1a" stroke-width="1.0"/>
<text x="50.30" y="614.70" font-size="8.19" text-anchor="end" fill="#2a2a2a" stroke="#2a2a2a" stroke-width="0.12" textLength="13.01" lengthAdjust="spacingAndGlyphs">100</text>
<line x1="53.70" y1="646.00" x2="56.80" y2="646.00" stroke="#1a1a1a" stroke-width="1.0"/>
<text x="50.30" y="648.80" font-size="8.19" text-anchor="end" fill="#2a2a2a" stroke="#2a2a2a" stroke-width="0.12" textLength="8.68" lengthAdjust="spacingAndGlyphs">10</text>
<line x1="56.20" y1="646.00" x2="177.00" y2="646.00" stroke="#1a1a1a" stroke-width="1.3"/>
<line x1="75.75" y1="646.00" x2="75.75" y2="649.50" stroke="#1a1a1a" stroke-width="1.0"/>
<line x1="105.00" y1="646.00" x2="105.00" y2="649.50" stroke="#1a1a1a" stroke-width="1.0"/>
<line x1="134.25" y1="646.00" x2="134.25" y2="649.50" stroke="#1a1a1a" stroke-width="1.0"/>
<line x1="57.5" y1="611.9" x2="160" y2="611.9" stroke="#555" stroke-width="1.4" stroke-dasharray="4.2 2.25" stroke-dashoffset="2.65"/>
<line x1="66.25" y1="567.25" x2="85.75" y2="567.25" stroke="#333" stroke-width="1.1"/>
<line x1="95.00" y1="612.25" x2="115.50" y2="612.25" stroke="#111" stroke-width="1.2"/>
<circle cx="103.10" cy="600.00" r="0.9" fill="#2a2a2a"/>
<path d="M103.10 598.65V601.35M101.90 599.30L104.30 600.70M101.90 600.70L104.30 599.30" stroke="#333" stroke-width="0.5"/>
<circle cx="106.90" cy="600.00" r="0.9" fill="#2a2a2a"/>
<path d="M106.90 598.65V601.35M105.70 599.30L108.10 600.70M105.70 600.70L108.10 599.30" stroke="#333" stroke-width="0.5"/>
<line x1="124.50" y1="574.25" x2="144.00" y2="574.25" stroke="#333" stroke-width="1.1"/>
<text x="0" y="0" font-size="9.2" text-anchor="middle" fill="#111" stroke="#111" stroke-width="0.12" textLength="45.5" lengthAdjust="spacingAndGlyphs" transform="translate(17.00 592.95) rotate(-90)">VWF @ 24 hrs</text>
<text x="0" y="0" font-size="9.2" text-anchor="middle" fill="#111" stroke="#111" stroke-width="0.12" textLength="67.9" lengthAdjust="spacingAndGlyphs" transform="translate(28.00 593.55) rotate(-90)">(% of baseline level)</text>
<text x="64.47" y="670.33" font-size="8.19" fill="#111" stroke="#111" stroke-width="0.12" textLength="21.68" lengthAdjust="spacingAndGlyphs" transform="rotate(-45 64.47 670.33)">Saline</text>
<text x="86.01" y="678.29" font-size="8.19" fill="#111" stroke="#111" stroke-width="0.12" textLength="32.94" lengthAdjust="spacingAndGlyphs" transform="rotate(-45 86.01 678.29)">Microlyse</text>
<text x="103.36" y="690.24" font-size="8.19" fill="#111" stroke="#111" stroke-width="0.12" textLength="49.84" lengthAdjust="spacingAndGlyphs" transform="rotate(-45 103.36 690.24)">Neg-Microlyse</text>
<text x="192.00" y="536.00" font-size="11.34" font-weight="bold" fill="#000" textLength="6.60" lengthAdjust="spacingAndGlyphs">F</text>
<line x1="223.40" y1="541.30" x2="223.40" y2="646.60" stroke="#1a1a1a" stroke-width="1.5"/>
<line x1="220.20" y1="645.90" x2="223.30" y2="645.90" stroke="#1a1a1a" stroke-width="1.0"/>
<text x="216.80" y="648.80" font-size="8.19" text-anchor="end" fill="#2a2a2a" stroke="#2a2a2a" stroke-width="0.12" textLength="4.34" lengthAdjust="spacingAndGlyphs">0</text>
<line x1="220.20" y1="620.34" x2="223.30" y2="620.34" stroke="#1a1a1a" stroke-width="1.0"/>
<text x="216.80" y="623.24" font-size="8.19" text-anchor="end" fill="#2a2a2a" stroke="#2a2a2a" stroke-width="0.12" textLength="13.01" lengthAdjust="spacingAndGlyphs">200</text>
<line x1="220.20" y1="594.78" x2="223.30" y2="594.78" stroke="#1a1a1a" stroke-width="1.0"/>
<text x="216.80" y="597.68" font-size="8.19" text-anchor="end" fill="#2a2a2a" stroke="#2a2a2a" stroke-width="0.12" textLength="13.01" lengthAdjust="spacingAndGlyphs">400</text>
<line x1="220.20" y1="569.22" x2="223.30" y2="569.22" stroke="#1a1a1a" stroke-width="1.0"/>
<text x="216.80" y="572.12" font-size="8.19" text-anchor="end" fill="#2a2a2a" stroke="#2a2a2a" stroke-width="0.12" textLength="13.01" lengthAdjust="spacingAndGlyphs">600</text>
<line x1="220.20" y1="543.66" x2="223.30" y2="543.66" stroke="#1a1a1a" stroke-width="1.0"/>
<text x="216.80" y="546.56" font-size="8.19" text-anchor="end" fill="#2a2a2a" stroke="#2a2a2a" stroke-width="0.12" textLength="13.01" lengthAdjust="spacingAndGlyphs">800</text>
<line x1="221.00" y1="633.12" x2="223.30" y2="633.12" stroke="#1a1a1a" stroke-width="0.9"/>
<line x1="221.00" y1="607.56" x2="223.30" y2="607.56" stroke="#1a1a1a" stroke-width="0.9"/>
<line x1="221.00" y1="582.00" x2="223.30" y2="582.00" stroke="#1a1a1a" stroke-width="0.9"/>
<line x1="221.00" y1="556.44" x2="223.30" y2="556.44" stroke="#1a1a1a" stroke-width="0.9"/>
<line x1="222.70" y1="645.90" x2="343.80" y2="645.90" stroke="#1a1a1a" stroke-width="1.3"/>
<line x1="238.75" y1="645.90" x2="238.75" y2="649.40" stroke="#1a1a1a" stroke-width="1.0"/>
<line x1="262.50" y1="645.90" x2="262.50" y2="649.40" stroke="#1a1a1a" stroke-width="1.0"/>
<line x1="286.10" y1="645.90" x2="286.10" y2="649.40" stroke="#1a1a1a" stroke-width="1.0"/>
<line x1="309.50" y1="645.90" x2="309.50" y2="649.40" stroke="#1a1a1a" stroke-width="1.0"/>
<line x1="230.00" y1="612.50" x2="247.90" y2="612.50" stroke="#111" stroke-width="1.2"/>
<line x1="254.20" y1="607.30" x2="270.60" y2="607.30" stroke="#111" stroke-width="1.2"/>
<line x1="278.00" y1="609.40" x2="294.00" y2="609.40" stroke="#111" stroke-width="1.2"/>
<line x1="301.70" y1="615.40" x2="318.00" y2="615.40" stroke="#111" stroke-width="1.2"/>
<text x="0" y="0" font-size="9.2" text-anchor="middle" fill="#111" stroke="#111" stroke-width="0.12" textLength="95.9" lengthAdjust="spacingAndGlyphs" transform="translate(198.20 593.15) rotate(-90)">Platelet count @ 30 min (G/L)</text>
<text x="227.47" y="670.33" font-size="8.19" fill="#111" stroke="#111" stroke-width="0.12" textLength="21.68" lengthAdjust="spacingAndGlyphs" transform="rotate(-45 227.47 670.33)">Saline</text>
<text x="243.31" y="678.29" font-size="8.19" fill="#111" stroke="#111" stroke-width="0.12" textLength="32.94" lengthAdjust="spacingAndGlyphs" transform="rotate(-45 243.31 678.29)">Microlyse</text>
<text x="255.06" y="690.24" font-size="8.19" fill="#111" stroke="#111" stroke-width="0.12" textLength="49.84" lengthAdjust="spacingAndGlyphs" transform="rotate(-45 255.06 690.24)">Neg-Microlyse</text>
<text x="276.51" y="692.09" font-size="8.19" fill="#111" stroke="#111" stroke-width="0.12" textLength="52.46" lengthAdjust="spacingAndGlyphs" transform="rotate(-45 276.51 692.09)">Caplacizumab*</text>
<line x1="262.50" y1="694.20" x2="309.60" y2="694.20" stroke="#1a1a1a" stroke-width="1.0"/>
<text x="286.00" y="704.60" font-size="9.97" text-anchor="middle" fill="#111" stroke="#111" stroke-width="0.12" textLength="27.00" lengthAdjust="spacingAndGlyphs">416 nM</text>
<text x="353.00" y="536.00" font-size="11.34" font-weight="bold" fill="#000" textLength="8.40" lengthAdjust="spacingAndGlyphs">G</text>
<line x1="390.00" y1="541.50" x2="390.00" y2="646.80" stroke="#1a1a1a" stroke-width="1.5"/>
<line x1="386.80" y1="646.10" x2="389.90" y2="646.10" stroke="#1a1a1a" stroke-width="1.0"/>
<text x="383.40" y="649.00" font-size="8.19" text-anchor="end" fill="#2a2a2a" stroke="#2a2a2a" stroke-width="0.12" textLength="4.34" lengthAdjust="spacingAndGlyphs">0</text>
<line x1="386.80" y1="629.33" x2="389.90" y2="629.33" stroke="#1a1a1a" stroke-width="1.0"/>
<text x="383.40" y="632.23" font-size="8.19" text-anchor="end" fill="#2a2a2a" stroke="#2a2a2a" stroke-width="0.12" textLength="13.01" lengthAdjust="spacingAndGlyphs">100</text>
<line x1="386.80" y1="612.56" x2="389.90" y2="612.56" stroke="#1a1a1a" stroke-width="1.0"/>
<text x="383.40" y="615.46" font-size="8.19" text-anchor="end" fill="#2a2a2a" stroke="#2a2a2a" stroke-width="0.12" textLength="13.01" lengthAdjust="spacingAndGlyphs">200</text>
<line x1="386.80" y1="595.79" x2="389.90" y2="595.79" stroke="#1a1a1a" stroke-width="1.0"/>
<text x="383.40" y="598.69" font-size="8.19" text-anchor="end" fill="#2a2a2a" stroke="#2a2a2a" stroke-width="0.12" textLength="13.01" lengthAdjust="spacingAndGlyphs">300</text>
<line x1="386.80" y1="579.02" x2="389.90" y2="579.02" stroke="#1a1a1a" stroke-width="1.0"/>
<text x="383.40" y="581.92" font-size="8.19" text-anchor="end" fill="#2a2a2a" stroke="#2a2a2a" stroke-width="0.12" textLength="13.01" lengthAdjust="spacingAndGlyphs">400</text>
<line x1="386.80" y1="562.25" x2="389.90" y2="562.25" stroke="#1a1a1a" stroke-width="1.0"/>
<text x="383.40" y="565.15" font-size="8.19" text-anchor="end" fill="#2a2a2a" stroke="#2a2a2a" stroke-width="0.12" textLength="13.01" lengthAdjust="spacingAndGlyphs">500</text>
<line x1="386.80" y1="545.48" x2="389.90" y2="545.48" stroke="#1a1a1a" stroke-width="1.0"/>
<text x="383.40" y="548.38" font-size="8.19" text-anchor="end" fill="#2a2a2a" stroke="#2a2a2a" stroke-width="0.12" textLength="13.01" lengthAdjust="spacingAndGlyphs">600</text>
<line x1="387.60" y1="637.72" x2="389.90" y2="637.72" stroke="#1a1a1a" stroke-width="0.9"/>
<line x1="387.60" y1="620.95" x2="389.90" y2="620.95" stroke="#1a1a1a" stroke-width="0.9"/>
<line x1="387.60" y1="604.18" x2="389.90" y2="604.18" stroke="#1a1a1a" stroke-width="0.9"/>
<line x1="387.60" y1="587.40" x2="389.90" y2="587.40" stroke="#1a1a1a" stroke-width="0.9"/>
<line x1="387.60" y1="570.63" x2="389.90" y2="570.63" stroke="#1a1a1a" stroke-width="0.9"/>
<line x1="387.60" y1="553.87" x2="389.90" y2="553.87" stroke="#1a1a1a" stroke-width="0.9"/>
<line x1="389.30" y1="646.10" x2="510.40" y2="646.10" stroke="#1a1a1a" stroke-width="1.3"/>
<line x1="405.70" y1="646.10" x2="405.70" y2="649.60" stroke="#1a1a1a" stroke-width="1.0"/>
<line x1="429.10" y1="646.10" x2="429.10" y2="649.60" stroke="#1a1a1a" stroke-width="1.0"/>
<line x1="452.70" y1="646.10" x2="452.70" y2="649.60" stroke="#1a1a1a" stroke-width="1.0"/>
<line x1="476.30" y1="646.10" x2="476.30" y2="649.60" stroke="#1a1a1a" stroke-width="1.0"/>
<line x1="394.2" y1="545.5" x2="493" y2="545.5" stroke="#333" stroke-width="1.3" stroke-dasharray="4.3 2.2"/>
<line x1="396.00" y1="618.50" x2="414.90" y2="618.50" stroke="#111" stroke-width="1.2"/>
<line x1="421.50" y1="615.10" x2="437.00" y2="615.10" stroke="#111" stroke-width="1.2"/>
<line x1="444.70" y1="617.40" x2="460.60" y2="617.40" stroke="#111" stroke-width="1.2"/>
<circle cx="477.00" cy="538.40" r="0.9" fill="#2a2a2a"/>
<path d="M477.00 537.05V539.75M475.80 537.70L478.20 539.10M475.80 539.10L478.20 537.70" stroke="#333" stroke-width="0.5"/>
<text x="0" y="0" font-size="9.2" text-anchor="middle" fill="#111" stroke="#111" stroke-width="0.12" textLength="97.5" lengthAdjust="spacingAndGlyphs" transform="translate(362.40 592.25) rotate(-90)">Bleeding time @ 30 min (sec)</text>
<text x="394.47" y="670.33" font-size="8.19" fill="#111" stroke="#111" stroke-width="0.12" textLength="21.68" lengthAdjust="spacingAndGlyphs" transform="rotate(-45 394.47 670.33)">Saline</text>
<text x="409.91" y="678.29" font-size="8.19" fill="#111" stroke="#111" stroke-width="0.12" textLength="32.94" lengthAdjust="spacingAndGlyphs" transform="rotate(-45 409.91 678.29)">Microlyse</text>
<text x="421.56" y="690.24" font-size="8.19" fill="#111" stroke="#111" stroke-width="0.12" textLength="49.84" lengthAdjust="spacingAndGlyphs" transform="rotate(-45 421.56 690.24)">Neg-Microlyse</text>
<text x="443.31" y="692.09" font-size="8.19" fill="#111" stroke="#111" stroke-width="0.12" textLength="52.46" lengthAdjust="spacingAndGlyphs" transform="rotate(-45 443.31 692.09)">Caplacizumab*</text>
<line x1="429.10" y1="694.30" x2="475.90" y2="694.30" stroke="#1a1a1a" stroke-width="1.0"/>
<text x="452.60" y="704.60" font-size="9.97" text-anchor="middle" fill="#111" stroke="#111" stroke-width="0.12" textLength="26.40" lengthAdjust="spacingAndGlyphs">416 nM</text>
<circle cx="79.50" cy="111.03" r="1.95" fill="none" stroke="#235f9c" stroke-width="0.85"/>
<circle cx="79.50" cy="116.38" r="1.95" fill="none" stroke="#235f9c" stroke-width="0.85"/>
<circle cx="79.50" cy="119.44" r="1.95" fill="none" stroke="#235f9c" stroke-width="0.85"/>
<circle cx="82.50" cy="119.57" r="1.95" fill="none" stroke="#235f9c" stroke-width="0.85"/>
<circle cx="76.50" cy="119.60" r="1.95" fill="none" stroke="#235f9c" stroke-width="0.85"/>
<circle cx="80.70" cy="122.30" r="1.95" fill="none" stroke="#235f9c" stroke-width="0.85"/>
<circle cx="77.70" cy="123.36" r="1.95" fill="none" stroke="#235f9c" stroke-width="0.85"/>
<circle cx="83.10" cy="124.14" r="1.95" fill="none" stroke="#235f9c" stroke-width="0.85"/>
<circle cx="74.70" cy="125.08" r="1.95" fill="none" stroke="#235f9c" stroke-width="0.85"/>
<circle cx="79.50" cy="126.60" r="1.95" fill="none" stroke="#235f9c" stroke-width="0.85"/>
<circle cx="84.90" cy="126.69" r="1.95" fill="none" stroke="#235f9c" stroke-width="0.85"/>
<circle cx="72.30" cy="127.08" r="1.95" fill="none" stroke="#235f9c" stroke-width="0.85"/>
<circle cx="76.50" cy="127.56" r="1.95" fill="none" stroke="#235f9c" stroke-width="0.85"/>
<circle cx="87.90" cy="127.64" r="1.95" fill="none" stroke="#235f9c" stroke-width="0.85"/>
<circle cx="69.30" cy="127.91" r="1.95" fill="none" stroke="#235f9c" stroke-width="0.85"/>
<circle cx="81.90" cy="128.92" r="1.95" fill="none" stroke="#235f9c" stroke-width="0.85"/>
<circle cx="90.90" cy="129.31" r="1.95" fill="none" stroke="#235f9c" stroke-width="0.85"/>
<circle cx="78.90" cy="129.68" r="1.95" fill="none" stroke="#235f9c" stroke-width="0.85"/>
<circle cx="84.90" cy="129.91" r="1.95" fill="none" stroke="#235f9c" stroke-width="0.85"/>
<circle cx="74.70" cy="130.12" r="1.95" fill="none" stroke="#235f9c" stroke-width="0.85"/>
<circle cx="71.70" cy="130.48" r="1.95" fill="none" stroke="#235f9c" stroke-width="0.85"/>
<circle cx="87.90" cy="131.31" r="1.95" fill="none" stroke="#235f9c" stroke-width="0.85"/>
<circle cx="68.70" cy="131.50" r="1.95" fill="none" stroke="#235f9c" stroke-width="0.85"/>
<circle cx="88.87" cy="131.64" r="1.95" fill="none" stroke="#235f9c" stroke-width="0.85"/>
<circle cx="79.50" cy="132.70" r="1.95" fill="none" stroke="#235f9c" stroke-width="0.85"/>
<circle cx="82.50" cy="133.20" r="1.95" fill="none" stroke="#235f9c" stroke-width="0.85"/>
<circle cx="76.50" cy="133.37" r="1.95" fill="none" stroke="#235f9c" stroke-width="0.85"/>
<circle cx="73.50" cy="133.88" r="1.95" fill="none" stroke="#235f9c" stroke-width="0.85"/>
<circle cx="85.50" cy="134.45" r="1.95" fill="none" stroke="#235f9c" stroke-width="0.85"/>
<circle cx="88.50" cy="134.70" r="1.95" fill="none" stroke="#235f9c" stroke-width="0.85"/>
<circle cx="70.50" cy="134.87" r="1.95" fill="none" stroke="#235f9c" stroke-width="0.85"/>
<circle cx="76.04" cy="135.09" r="1.95" fill="none" stroke="#235f9c" stroke-width="0.85"/>
<circle cx="78.88" cy="135.32" r="1.95" fill="none" stroke="#235f9c" stroke-width="0.85"/>
<circle cx="81.90" cy="136.18" r="1.95" fill="none" stroke="#235f9c" stroke-width="0.85"/>
<circle cx="72.90" cy="136.82" r="1.95" fill="none" stroke="#235f9c" stroke-width="0.85"/>
<circle cx="68.10" cy="137.03" r="1.95" fill="none" stroke="#235f9c" stroke-width="0.85"/>
<circle cx="86.70" cy="137.32" r="1.95" fill="none" stroke="#235f9c" stroke-width="0.85"/>
<circle cx="89.70" cy="137.60" r="1.95" fill="none" stroke="#235f9c" stroke-width="0.85"/>
<circle cx="81.33" cy="137.62" r="1.95" fill="none" stroke="#235f9c" stroke-width="0.85"/>
<circle cx="87.92" cy="137.71" r="1.95" fill="none" stroke="#235f9c" stroke-width="0.85"/>
<circle cx="77.10" cy="138.04" r="1.95" fill="none" stroke="#235f9c" stroke-width="0.85"/>
<circle cx="80.31" cy="138.55" r="1.95" fill="none" stroke="#235f9c" stroke-width="0.85"/>
<circle cx="70.50" cy="139.03" r="1.95" fill="none" stroke="#235f9c" stroke-width="0.85"/>
<circle cx="77.01" cy="139.04" r="1.95" fill="none" stroke="#235f9c" stroke-width="0.85"/>
<circle cx="84.30" cy="139.18" r="1.95" fill="none" stroke="#235f9c" stroke-width="0.85"/>
<circle cx="69.72" cy="139.62" r="1.95" fill="none" stroke="#235f9c" stroke-width="0.85"/>
<circle cx="74.10" cy="139.87" r="1.95" fill="none" stroke="#235f9c" stroke-width="0.85"/>
<circle cx="77.38" cy="139.96" r="1.95" fill="none" stroke="#235f9c" stroke-width="0.85"/>
<circle cx="80.10" cy="141.58" r="1.95" fill="none" stroke="#235f9c" stroke-width="0.85"/>
<circle cx="86.10" cy="141.65" r="1.95" fill="none" stroke="#235f9c" stroke-width="0.85"/>
<circle cx="71.70" cy="141.91" r="1.95" fill="none" stroke="#235f9c" stroke-width="0.85"/>
<circle cx="83.10" cy="142.01" r="1.95" fill="none" stroke="#235f9c" stroke-width="0.85"/>
<circle cx="89.10" cy="142.08" r="1.95" fill="none" stroke="#235f9c" stroke-width="0.85"/>
<circle cx="68.10" cy="142.34" r="1.95" fill="none" stroke="#235f9c" stroke-width="0.85"/>
<circle cx="75.90" cy="142.80" r="1.95" fill="none" stroke="#235f9c" stroke-width="0.85"/>
<circle cx="73.10" cy="143.10" r="1.95" fill="none" stroke="#235f9c" stroke-width="0.85"/>
<circle cx="79.50" cy="146.96" r="1.95" fill="none" stroke="#235f9c" stroke-width="0.85"/>
<circle cx="82.50" cy="147.89" r="1.95" fill="none" stroke="#235f9c" stroke-width="0.85"/>
<circle cx="79.50" cy="153.71" r="1.95" fill="none" stroke="#235f9c" stroke-width="0.85"/>
<circle cx="82.50" cy="154.46" r="1.95" fill="none" stroke="#235f9c" stroke-width="0.85"/>
<line x1="68" y1="132.5" x2="91.2" y2="132.5" stroke="#222" stroke-width="1.1"/>
<rect x="104.45" y="189.45" width="3.6" height="3.6" fill="#11508f"/>
<rect x="104.45" y="197.70" width="3.6" height="3.6" fill="#11508f"/>
<rect x="111.95" y="191.20" width="3.6" height="3.6" fill="#11508f"/>
<rect x="111.95" y="194.95" width="3.6" height="3.6" fill="#11508f"/>
<rect x="118.95" y="196.20" width="3.6" height="3.6" fill="#11508f"/>
<path d="M138.20 171.25L142.80 171.25L140.50 167.25Z" fill="#2db34a"/>
<path d="M138.20 179.50L142.80 179.50L140.50 175.50Z" fill="#2db34a"/>
<path d="M145.20 175.75L149.80 175.75L147.50 171.75Z" fill="#2db34a"/>
<path d="M152.70 174.00L157.30 174.00L155.00 170.00Z" fill="#2db34a"/>
<path d="M152.70 178.25L157.30 178.25L155.00 174.25Z" fill="#2db34a"/>
<path d="M172.20 165.75L176.80 165.75L174.50 161.75Z" fill="#2db34a"/>
<path d="M179.45 156.50L184.05 156.50L181.75 152.50Z" fill="#2db34a"/>
<path d="M179.45 162.50L184.05 162.50L181.75 158.50Z" fill="#2db34a"/>
<path d="M186.45 161.25L191.05 161.25L188.75 157.25Z" fill="#2db34a"/>
<path d="M186.45 165.25L191.05 165.25L188.75 161.25Z" fill="#2db34a"/>
<path d="M206.45 158.25L211.05 158.25L208.75 154.25Z" fill="#2db34a"/>
<path d="M206.45 162.50L211.05 162.50L208.75 158.50Z" fill="#2db34a"/>
<path d="M213.45 158.25L218.05 158.25L215.75 154.25Z" fill="#2db34a"/>
<path d="M220.70 156.50L225.30 156.50L223.00 152.50Z" fill="#2db34a"/>
<path d="M220.70 160.75L225.30 160.75L223.00 156.75Z" fill="#2db34a"/>
<path d="M240.00 192.40L244.60 192.40L242.30 196.40Z" fill="#c8102e"/>
<path d="M247.30 188.60L251.90 188.60L249.60 192.60Z" fill="#c8102e"/>
<path d="M244.20 196.70L248.80 196.70L246.50 200.70Z" fill="#c8102e"/>
<path d="M251.40 196.70L256.00 196.70L253.70 200.70Z" fill="#c8102e"/>
<path d="M254.80 192.40L259.40 192.40L257.10 196.40Z" fill="#c8102e"/>
<path d="M274.60 187.20L279.20 187.20L276.90 191.20Z" fill="#c8102e"/>
<path d="M274.60 194.70L279.20 194.70L276.90 198.70Z" fill="#c8102e"/>
<path d="M281.90 190.90L286.50 190.90L284.20 194.90Z" fill="#c8102e"/>
<path d="M288.90 186.00L293.50 186.00L291.20 190.00Z" fill="#c8102e"/>
<path d="M288.90 190.90L293.50 190.90L291.20 194.90Z" fill="#c8102e"/>
<path d="M312.50 184.70L317.10 184.70L314.80 188.70Z" fill="#c8102e"/>
<path d="M319.60 185.30L324.20 185.30L321.90 189.30Z" fill="#c8102e"/>
<path d="M312.50 189.90L317.10 189.90L314.80 193.90Z" fill="#c8102e"/>
<path d="M319.60 192.40L324.20 192.40L321.90 196.40Z" fill="#c8102e"/>
<path d="M315.70 196.70L320.30 196.70L318.00 200.70Z" fill="#c8102e"/>
<path d="M342.60 188.10L345.00 190.50L342.60 192.90L340.20 190.50Z" fill="#f6b515"/>
<path d="M342.60 193.30L345.00 195.70L342.60 198.10L340.20 195.70Z" fill="#f6b515"/>
<path d="M349.20 189.90L351.60 192.30L349.20 194.70L346.80 192.30Z" fill="#f6b515"/>
<path d="M355.40 191.90L357.80 194.30L355.40 196.70L353.00 194.30Z" fill="#f6b515"/>
<path d="M362.30 191.40L364.70 193.80L362.30 196.20L359.90 193.80Z" fill="#f6b515"/>
<path d="M386.50 128.80L388.90 131.20L386.50 133.60L384.10 131.20Z" fill="#f6b515"/>
<path d="M386.50 134.10L388.90 136.50L386.50 138.90L384.10 136.50Z" fill="#f6b515"/>
<path d="M383.10 142.70L385.50 145.10L383.10 147.50L380.70 145.10Z" fill="#f6b515"/>
<path d="M390.00 142.70L392.40 145.10L390.00 147.50L387.60 145.10Z" fill="#f6b515"/>
<path d="M386.50 151.40L388.90 153.80L386.50 156.20L384.10 153.80Z" fill="#f6b515"/>
<circle cx="78.50" cy="346.30" r="1.95" fill="none" stroke="#235f9c" stroke-width="0.85"/>
<circle cx="81.50" cy="346.60" r="1.95" fill="none" stroke="#235f9c" stroke-width="0.85"/>
<circle cx="76.00" cy="348.50" r="1.95" fill="none" stroke="#235f9c" stroke-width="0.85"/>
<circle cx="84.00" cy="348.30" r="1.95" fill="none" stroke="#235f9c" stroke-width="0.85"/>
<circle cx="69.19" cy="351.13" r="1.95" fill="none" stroke="#235f9c" stroke-width="0.85"/>
<circle cx="70.55" cy="351.23" r="1.95" fill="none" stroke="#235f9c" stroke-width="0.85"/>
<circle cx="72.06" cy="350.31" r="1.95" fill="none" stroke="#235f9c" stroke-width="0.85"/>
<circle cx="72.53" cy="351.62" r="1.95" fill="none" stroke="#235f9c" stroke-width="0.85"/>
<circle cx="74.03" cy="350.60" r="1.95" fill="none" stroke="#235f9c" stroke-width="0.85"/>
<circle cx="76.12" cy="351.00" r="1.95" fill="none" stroke="#235f9c" stroke-width="0.85"/>
<circle cx="77.14" cy="351.01" r="1.95" fill="none" stroke="#235f9c" stroke-width="0.85"/>
<circle cx="78.11" cy="350.46" r="1.95" fill="none" stroke="#235f9c" stroke-width="0.85"/>
<circle cx="79.31" cy="351.68" r="1.95" fill="none" stroke="#235f9c" stroke-width="0.85"/>
<circle cx="80.38" cy="351.46" r="1.95" fill="none" stroke="#235f9c" stroke-width="0.85"/>
<circle cx="81.76" cy="350.31" r="1.95" fill="none" stroke="#235f9c" stroke-width="0.85"/>
<circle cx="83.07" cy="351.20" r="1.95" fill="none" stroke="#235f9c" stroke-width="0.85"/>
<circle cx="83.73" cy="350.25" r="1.95" fill="none" stroke="#235f9c" stroke-width="0.85"/>
<circle cx="85.62" cy="351.00" r="1.95" fill="none" stroke="#235f9c" stroke-width="0.85"/>
<circle cx="86.64" cy="351.69" r="1.95" fill="none" stroke="#235f9c" stroke-width="0.85"/>
<circle cx="87.85" cy="351.77" r="1.95" fill="none" stroke="#235f9c" stroke-width="0.85"/>
<circle cx="88.67" cy="351.56" r="1.95" fill="none" stroke="#235f9c" stroke-width="0.85"/>
<circle cx="89.93" cy="351.79" r="1.95" fill="none" stroke="#235f9c" stroke-width="0.85"/>
<circle cx="86.06" cy="348.72" r="1.95" fill="none" stroke="#235f9c" stroke-width="0.85"/>
<circle cx="74.18" cy="348.86" r="1.95" fill="none" stroke="#235f9c" stroke-width="0.85"/>
<circle cx="87.45" cy="349.12" r="1.95" fill="none" stroke="#235f9c" stroke-width="0.85"/>
<circle cx="82.03" cy="348.96" r="1.95" fill="none" stroke="#235f9c" stroke-width="0.85"/>
<circle cx="80.12" cy="349.06" r="1.95" fill="none" stroke="#235f9c" stroke-width="0.85"/>
<circle cx="77.61" cy="349.30" r="1.95" fill="none" stroke="#235f9c" stroke-width="0.85"/>
<rect x="111.95" y="267.20" width="3.6" height="3.6" fill="#11508f"/>
<rect x="111.95" y="276.45" width="3.6" height="3.6" fill="#11508f"/>
<rect x="111.95" y="283.95" width="3.6" height="3.6" fill="#11508f"/>
<rect x="111.95" y="291.70" width="3.6" height="3.6" fill="#11508f"/>
<rect x="111.95" y="316.95" width="3.6" height="3.6" fill="#11508f"/>
<path d="M145.60 346.80L150.20 346.80L147.90 342.80Z" fill="#2db34a"/>
<path d="M136.90 353.30L141.50 353.30L139.20 349.30Z" fill="#2db34a"/>
<path d="M142.30 352.20L146.90 352.20L144.60 348.20Z" fill="#2db34a"/>
<path d="M148.50 353.20L153.10 353.20L150.80 349.20Z" fill="#2db34a"/>
<path d="M153.90 352.20L158.50 352.20L156.20 348.20Z" fill="#2db34a"/>
<path d="M176.50 347.00L181.10 347.00L178.80 343.00Z" fill="#2db34a"/>
<path d="M182.30 346.40L186.90 346.40L184.60 342.40Z" fill="#2db34a"/>
<path d="M176.50 349.90L181.10 349.90L178.80 345.90Z" fill="#2db34a"/>
<path d="M176.50 352.80L181.10 352.80L178.80 348.80Z" fill="#2db34a"/>
<path d="M182.30 351.80L186.90 351.80L184.60 347.80Z" fill="#2db34a"/>
<path d="M203.90 352.20L208.50 352.20L206.20 348.20Z" fill="#2db34a"/>
<path d="M208.70 349.90L213.30 349.90L211.00 345.90Z" fill="#2db34a"/>
<path d="M213.90 351.60L218.50 351.60L216.20 347.60Z" fill="#2db34a"/>
<path d="M218.70 351.20L223.30 351.20L221.00 347.20Z" fill="#2db34a"/>
<path d="M223.50 352.80L228.10 352.80L225.80 348.80Z" fill="#2db34a"/>
<path d="M247.70 267.20L252.30 267.20L250.00 271.20Z" fill="#c8102e"/>
<path d="M247.70 271.10L252.30 271.10L250.00 275.10Z" fill="#c8102e"/>
<path d="M247.70 275.50L252.30 275.50L250.00 279.50Z" fill="#c8102e"/>
<path d="M247.70 284.20L252.30 284.20L250.00 288.20Z" fill="#c8102e"/>
<path d="M247.70 288.60L252.30 288.60L250.00 292.60Z" fill="#c8102e"/>
<path d="M276.20 271.70L280.80 271.70L278.50 275.70Z" fill="#c8102e"/>
<path d="M281.90 274.20L286.50 274.20L284.20 278.20Z" fill="#c8102e"/>
<path d="M287.30 273.00L291.90 273.00L289.60 277.00Z" fill="#c8102e"/>
<path d="M278.90 293.40L283.50 293.40L281.20 297.40Z" fill="#c8102e"/>
<path d="M284.70 291.50L289.30 291.50L287.00 295.50Z" fill="#c8102e"/>
<path d="M315.70 263.00L320.30 263.00L318.00 267.00Z" fill="#c8102e"/>
<path d="M315.70 278.00L320.30 278.00L318.00 282.00Z" fill="#c8102e"/>
<path d="M315.70 286.00L320.30 286.00L318.00 290.00Z" fill="#c8102e"/>
<path d="M315.70 290.50L320.30 290.50L318.00 294.50Z" fill="#c8102e"/>
<path d="M315.70 313.60L320.30 313.60L318.00 317.60Z" fill="#c8102e"/>
<path d="M352.40 276.10L354.80 278.50L352.40 280.90L350.00 278.50Z" fill="#f6b515"/>
<path d="M352.40 285.60L354.80 288.00L352.40 290.40L350.00 288.00Z" fill="#f6b515"/>
<path d="M352.40 302.20L354.80 304.60L352.40 307.00L350.00 304.60Z" fill="#f6b515"/>
<path d="M352.40 306.10L354.80 308.50L352.40 310.90L350.00 308.50Z" fill="#f6b515"/>
<path d="M352.40 314.20L354.80 316.60L352.40 319.00L350.00 316.60Z" fill="#f6b515"/>
<path d="M386.50 271.80L388.90 274.20L386.50 276.60L384.10 274.20Z" fill="#f6b515"/>
<path d="M386.50 313.00L388.90 315.40L386.50 317.80L384.10 315.40Z" fill="#f6b515"/>
<path d="M383.50 318.40L385.90 320.80L383.50 323.20L381.10 320.80Z" fill="#f6b515"/>
<path d="M383.50 321.80L385.90 324.20L383.50 326.60L381.10 324.20Z" fill="#f6b515"/>
<path d="M389.20 319.60L391.60 322.00L389.20 324.40L386.80 322.00Z" fill="#f6b515"/>
<rect x="108.20" y="456.20" width="3.6" height="3.6" fill="#11508f"/>
<rect x="115.60" y="457.90" width="3.6" height="3.6" fill="#11508f"/>
<rect x="111.70" y="473.30" width="3.6" height="3.6" fill="#11508f"/>
<rect x="111.70" y="483.90" width="3.6" height="3.6" fill="#11508f"/>
<rect x="111.70" y="494.40" width="3.6" height="3.6" fill="#11508f"/>
<path d="M135.90 503.60L140.50 503.60L138.20 499.60Z" fill="#2db34a"/>
<path d="M142.10 503.60L146.70 503.60L144.40 499.60Z" fill="#2db34a"/>
<path d="M148.80 503.60L153.40 503.60L151.10 499.60Z" fill="#2db34a"/>
<path d="M154.90 503.60L159.50 503.60L157.20 499.60Z" fill="#2db34a"/>
<path d="M145.60 494.70L150.20 494.70L147.90 490.70Z" fill="#2db34a"/>
<path d="M169.70 503.60L174.30 503.60L172.00 499.60Z" fill="#2db34a"/>
<path d="M174.70 503.60L179.30 503.60L177.00 499.60Z" fill="#2db34a"/>
<path d="M179.60 503.60L184.20 503.60L181.90 499.60Z" fill="#2db34a"/>
<path d="M184.40 503.60L189.00 503.60L186.70 499.60Z" fill="#2db34a"/>
<path d="M189.20 503.60L193.80 503.60L191.50 499.60Z" fill="#2db34a"/>
<path d="M204.00 503.60L208.60 503.60L206.30 499.60Z" fill="#2db34a"/>
<path d="M208.90 503.60L213.50 503.60L211.20 499.60Z" fill="#2db34a"/>
<path d="M213.80 503.60L218.40 503.60L216.10 499.60Z" fill="#2db34a"/>
<path d="M218.70 503.60L223.30 503.60L221.00 499.60Z" fill="#2db34a"/>
<path d="M223.60 503.60L228.20 503.60L225.90 499.60Z" fill="#2db34a"/>
<path d="M247.70 396.40L252.30 396.40L250.00 400.40Z" fill="#c8102e"/>
<path d="M247.70 403.50L252.30 403.50L250.00 407.50Z" fill="#c8102e"/>
<path d="M247.70 433.90L252.30 433.90L250.00 437.90Z" fill="#c8102e"/>
<path d="M247.70 437.80L252.30 437.80L250.00 441.80Z" fill="#c8102e"/>
<path d="M247.70 474.50L252.30 474.50L250.00 478.50Z" fill="#c8102e"/>
<path d="M281.70 449.30L286.30 449.30L284.00 453.30Z" fill="#c8102e"/>
<path d="M281.70 485.20L286.30 485.20L284.00 489.20Z" fill="#c8102e"/>
<path d="M281.70 488.60L286.30 488.60L284.00 492.60Z" fill="#c8102e"/>
<path d="M274.70 492.60L279.30 492.60L277.00 496.60Z" fill="#c8102e"/>
<path d="M288.70 491.90L293.30 491.90L291.00 495.90Z" fill="#c8102e"/>
<path d="M315.70 470.90L320.30 470.90L318.00 474.90Z" fill="#c8102e"/>
<path d="M315.70 478.00L320.30 478.00L318.00 482.00Z" fill="#c8102e"/>
<path d="M315.70 485.30L320.30 485.30L318.00 489.30Z" fill="#c8102e"/>
<path d="M312.20 496.80L316.80 496.80L314.50 500.80Z" fill="#c8102e"/>
<path d="M319.70 496.80L324.30 496.80L322.00 500.80Z" fill="#c8102e"/>
<path d="M352.30 443.40L354.70 445.80L352.30 448.20L349.90 445.80Z" fill="#f6b515"/>
<path d="M352.30 479.20L354.70 481.60L352.30 484.00L349.90 481.60Z" fill="#f6b515"/>
<path d="M345.50 487.20L347.90 489.60L345.50 492.00L343.10 489.60Z" fill="#f6b515"/>
<path d="M359.00 487.20L361.40 489.60L359.00 492.00L356.60 489.60Z" fill="#f6b515"/>
<path d="M352.30 484.30L354.70 486.70L352.30 489.10L349.90 486.70Z" fill="#f6b515"/>
<path d="M381.00 486.10L383.40 488.50L381.00 490.90L378.60 488.50Z" fill="#f6b515"/>
<path d="M392.00 486.10L394.40 488.50L392.00 490.90L389.60 488.50Z" fill="#f6b515"/>
<path d="M386.30 489.00L388.70 491.40L386.30 493.80L383.90 491.40Z" fill="#f6b515"/>
<path d="M381.00 492.60L383.40 495.00L381.00 497.40L378.60 495.00Z" fill="#f6b515"/>
<path d="M392.00 492.60L394.40 495.00L392.00 497.40L389.60 495.00Z" fill="#f6b515"/>
<rect x="73.95" y="559.45" width="3.6" height="3.6" fill="#11508f"/>
<rect x="70.20" y="568.70" width="3.6" height="3.6" fill="#11508f"/>
<rect x="78.20" y="565.45" width="3.6" height="3.6" fill="#11508f"/>
<path d="M102.70 609.00L107.30 609.00L105.00 605.00Z" fill="#2db34a"/>
<path d="M98.70 617.00L103.30 617.00L101.00 613.00Z" fill="#2db34a"/>
<path d="M106.95 614.75L111.55 614.75L109.25 610.75Z" fill="#2db34a"/>
<path d="M131.95 566.00L136.55 566.00L134.25 570.00Z" fill="#c8102e"/>
<path d="M127.70 575.50L132.30 575.50L130.00 579.50Z" fill="#c8102e"/>
<path d="M135.70 572.00L140.30 572.00L138.00 576.00Z" fill="#c8102e"/>
<rect x="231.30" y="605.50" width="3.6" height="3.6" fill="#11508f"/>
<rect x="231.30" y="610.50" width="3.6" height="3.6" fill="#11508f"/>
<rect x="231.30" y="617.20" width="3.6" height="3.6" fill="#11508f"/>
<rect x="242.80" y="608.40" width="3.6" height="3.6" fill="#11508f"/>
<rect x="242.80" y="616.30" width="3.6" height="3.6" fill="#11508f"/>
<path d="M254.80 597.40L259.40 597.40L257.10 593.40Z" fill="#2db34a"/>
<path d="M266.20 602.00L270.80 602.00L268.50 598.00Z" fill="#2db34a"/>
<path d="M260.40 609.70L265.00 609.70L262.70 605.70Z" fill="#2db34a"/>
<path d="M260.40 614.30L265.00 614.30L262.70 610.30Z" fill="#2db34a"/>
<path d="M260.40 625.10L265.00 625.10L262.70 621.10Z" fill="#2db34a"/>
<path d="M278.30 604.90L282.90 604.90L280.60 608.90Z" fill="#c8102e"/>
<path d="M283.70 607.20L288.30 607.20L286.00 611.20Z" fill="#c8102e"/>
<path d="M289.40 604.90L294.00 604.90L291.70 608.90Z" fill="#c8102e"/>
<path d="M278.30 612.20L282.90 612.20L280.60 616.20Z" fill="#c8102e"/>
<path d="M289.40 610.30L294.00 610.30L291.70 614.30Z" fill="#c8102e"/>
<path d="M309.40 558.20L311.80 560.60L309.40 563.00L307.00 560.60Z" fill="#f6b515"/>
<path d="M304.00 611.30L306.40 613.70L304.00 616.10L301.60 613.70Z" fill="#f6b515"/>
<path d="M309.40 613.90L311.80 616.30L309.40 618.70L307.00 616.30Z" fill="#f6b515"/>
<path d="M315.60 612.60L318.00 615.00L315.60 617.40L313.20 615.00Z" fill="#f6b515"/>
<path d="M309.40 626.40L311.80 628.80L309.40 631.20L307.00 628.80Z" fill="#f6b515"/>
<rect x="403.80" y="608.20" width="3.6" height="3.6" fill="#11508f"/>
<rect x="397.60" y="616.70" width="3.6" height="3.6" fill="#11508f"/>
<rect x="409.70" y="615.60" width="3.6" height="3.6" fill="#11508f"/>
<rect x="403.80" y="620.60" width="3.6" height="3.6" fill="#11508f"/>
<rect x="403.80" y="631.70" width="3.6" height="3.6" fill="#11508f"/>
<path d="M426.50 547.50L431.10 547.50L428.80 543.50Z" fill="#2db34a"/>
<path d="M421.00 617.60L425.60 617.60L423.30 613.60Z" fill="#2db34a"/>
<path d="M432.70 616.70L437.30 616.70L435.00 612.70Z" fill="#2db34a"/>
<path d="M421.00 633.00L425.60 633.00L423.30 629.00Z" fill="#2db34a"/>
<path d="M432.70 632.00L437.30 632.00L435.00 628.00Z" fill="#2db34a"/>
<path d="M450.10 543.00L454.70 543.00L452.40 547.00Z" fill="#c8102e"/>
<path d="M450.10 598.30L454.70 598.30L452.40 602.30Z" fill="#c8102e"/>
<path d="M450.10 615.40L454.70 615.40L452.40 619.40Z" fill="#c8102e"/>
<path d="M444.60 630.80L449.20 630.80L446.90 634.80Z" fill="#c8102e"/>
<path d="M456.30 630.40L460.90 630.40L458.60 634.40Z" fill="#c8102e"/>
<path d="M470.10 543.10L472.50 545.50L470.10 547.90L467.70 545.50Z" fill="#f6b515"/>
<path d="M474.10 543.10L476.50 545.50L474.10 547.90L471.70 545.50Z" fill="#f6b515"/>
<path d="M477.90 543.10L480.30 545.50L477.90 547.90L475.50 545.50Z" fill="#f6b515"/>
<path d="M481.90 543.10L484.30 545.50L481.90 547.90L479.50 545.50Z" fill="#f6b515"/>
<path d="M475.70 633.10L478.10 635.50L475.70 637.90L473.30 635.50Z" fill="#f6b515"/>
</svg>
</body></html>
